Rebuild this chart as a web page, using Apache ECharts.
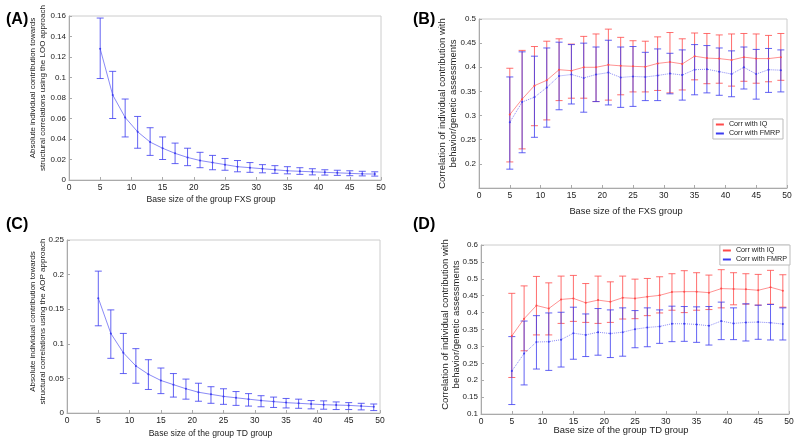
<!DOCTYPE html>
<html><head><meta charset="utf-8">
<script src="https://cdn.jsdelivr.net/npm/echarts@6/dist/echarts.min.js"></script>
<style>html,body{margin:0;padding:0;background:#fff}#c{width:800px;height:444px}</style>
</head><body><div id="c"></div>
<script>
const xs = [5,7,9,11,13,15,17,19,21,23,25,27,29,31,33,35,37,39,41,43,45,47,49];
const xTicks = [0,5,10,15,20,25,30,35,40,45,50];

// Panel A (FXS, LOO)
const aMean = [0.128,0.083,0.061,0.047,0.037,0.031,0.026,0.022,0.019,0.017,0.015,0.013,0.012,0.011,0.010,0.009,0.0085,0.008,0.0075,0.007,0.0065,0.006,0.0058];
const aHigh = [0.158,0.106,0.079,0.062,0.051,0.042,0.036,0.031,0.027,0.024,0.021,0.019,0.017,0.015,0.014,0.013,0.012,0.011,0.010,0.0095,0.009,0.0085,0.008];
const aLow  = [0.099,0.060,0.042,0.031,0.024,0.020,0.016,0.014,0.012,0.010,0.0095,0.008,0.0075,0.007,0.0065,0.006,0.0055,0.005,0.0048,0.0045,0.0042,0.004,0.0038];

// Panel B (FXS correlations)
const bIqMean = [0.302,0.334,0.362,0.373,0.395,0.393,0.400,0.400,0.405,0.403,0.402,0.401,0.408,0.411,0.407,0.423,0.419,0.418,0.415,0.421,0.418,0.418,0.421];
const bIqHigh = [0.398,0.435,0.443,0.454,0.459,0.448,0.464,0.469,0.479,0.462,0.455,0.454,0.463,0.472,0.459,0.471,0.470,0.467,0.469,0.470,0.469,0.466,0.470];
const bIqLow  = [0.204,0.231,0.279,0.291,0.331,0.336,0.336,0.329,0.332,0.343,0.349,0.349,0.352,0.347,0.353,0.374,0.366,0.367,0.361,0.371,0.367,0.370,0.373];
const bFmMean = [0.286,0.328,0.338,0.358,0.382,0.385,0.378,0.385,0.389,0.379,0.381,0.380,0.383,0.387,0.384,0.395,0.396,0.391,0.386,0.400,0.386,0.395,0.394];
const bFmHigh = [0.380,0.432,0.423,0.440,0.452,0.447,0.450,0.442,0.456,0.442,0.443,0.431,0.438,0.429,0.436,0.447,0.445,0.440,0.434,0.442,0.437,0.439,0.436];
const bFmLow  = [0.189,0.223,0.255,0.276,0.312,0.324,0.307,0.329,0.322,0.317,0.319,0.331,0.331,0.345,0.332,0.343,0.347,0.342,0.339,0.355,0.334,0.348,0.349];

// Panel C (TD, AOP)
const cMean = [0.166,0.115,0.087,0.068,0.056,0.047,0.041,0.035,0.030,0.027,0.024,0.022,0.020,0.018,0.0165,0.015,0.014,0.013,0.012,0.0115,0.011,0.010,0.009];
const cHigh = [0.205,0.149,0.115,0.093,0.077,0.065,0.057,0.049,0.043,0.038,0.035,0.031,0.028,0.025,0.023,0.021,0.020,0.018,0.0175,0.016,0.015,0.014,0.013];
const cLow  = [0.126,0.079,0.057,0.043,0.034,0.028,0.023,0.020,0.017,0.014,0.0125,0.011,0.010,0.009,0.008,0.0073,0.0068,0.006,0.0055,0.005,0.005,0.0045,0.0035];

// Panel D (TD correlations)
const dIqMean = [0.331,0.382,0.421,0.412,0.439,0.442,0.429,0.437,0.432,0.444,0.442,0.447,0.451,0.461,0.462,0.462,0.459,0.471,0.470,0.469,0.466,0.475,0.465];
const dIqHigh = [0.457,0.479,0.507,0.488,0.508,0.510,0.486,0.508,0.491,0.508,0.499,0.501,0.506,0.515,0.524,0.518,0.511,0.527,0.518,0.515,0.513,0.525,0.512];
const dIqLow  = [0.208,0.287,0.334,0.334,0.368,0.374,0.371,0.368,0.371,0.381,0.382,0.391,0.399,0.407,0.400,0.407,0.409,0.414,0.423,0.425,0.422,0.425,0.416];
const dFmMean = [0.227,0.279,0.313,0.314,0.320,0.339,0.334,0.342,0.338,0.342,0.351,0.356,0.359,0.367,0.367,0.365,0.361,0.375,0.368,0.371,0.372,0.370,0.366];
const dFmHigh = [0.329,0.375,0.391,0.399,0.401,0.416,0.396,0.412,0.408,0.414,0.406,0.414,0.408,0.419,0.418,0.417,0.418,0.431,0.414,0.426,0.422,0.424,0.414];
const dFmLow  = [0.128,0.186,0.233,0.229,0.239,0.262,0.270,0.274,0.267,0.271,0.296,0.299,0.309,0.314,0.315,0.312,0.304,0.320,0.320,0.316,0.321,0.319,0.319];

const RED = '#ff4a4a', BLUE = '#3c3cf0';
const FONT = 'Liberation Sans, Arial, sans-serif';

function pairs(m){ return xs.map((x,i)=>[x,m[i]]); }
function errData(lo,hi){ return xs.map((x,i)=>[x,lo[i],hi[i]]); }

function errSeries(idx, lo, hi, color, name){
  return {
    type:'custom', name:name, xAxisIndex:idx, yAxisIndex:idx, z:3,
    itemStyle:{color:color},
    data: errData(lo,hi), encode:{x:0,y:[1,2]},
    renderItem:function(params, api){
      const x = api.value(0);
      const p1 = api.coord([x, api.value(2)]);
      const p2 = api.coord([x, api.value(1)]);
      const w = 3.5;
      const st = {stroke:color, lineWidth:1, opacity:0.8};
      return {type:'group', children:[
        {type:'line', shape:{x1:p1[0],y1:p1[1],x2:p2[0],y2:p2[1]}, style:st},
        {type:'line', shape:{x1:p1[0]-w,y1:p1[1],x2:p1[0]+w,y2:p1[1]}, style:st},
        {type:'line', shape:{x1:p2[0]-w,y1:p2[1],x2:p2[0]+w,y2:p2[1]}, style:st}
      ]};
    }
  };
}
function lineSeries(idx, m, color, name, dotted){
  return {
    type:'line', name:name, xAxisIndex:idx, yAxisIndex:idx, z:4,
    data: pairs(m), symbol:'circle', symbolSize:2, showSymbol:true,
    itemStyle:{color:color}, lineStyle:{color:color, width:1, opacity:0.6, type: dotted?'dotted':'solid'},
    animation:false
  };
}

const grids = [
  {left:69, top:16, width:312, height:164},
  {left:479, top:19, width:308, height:169},
  {left:67, top:240, width:313, height:173},
  {left:481, top:245, width:308, height:169}
];
const xNames = ['Base size of the group FXS group','Base size of the FXS group','Base size of the group TD group','Base size of the group TD group'];
const xGaps = [15,19,16,12];
const xFont = [8.6,9.3,8.6,9.4];
const xShift = [28,14,26,28];
const yNames = [
  'Absolute individual contribution towards\nstructural correlations using the LOO approach',
  'Correlation of individual contribution with\nbehavior/genetic assessments',
  'Absolute individual contribution towards\nstructural correlations using the AOP approach',
  'Correlation of individual contribution with\nbehavior/genetic assessments'
];
const yRanges = [[0,0.16,0.02],[0.15,0.5,0.05],[0,0.25,0.05],[0.1,0.6,0.05]];
const yGaps = [21,20,19,19];
const yFont = [8,9.5,8,9.5];
const yLH = [10,11,10,11];
const yShift = [20,0,10,10];

const axisLabel = {fontSize:8, color:'#222', fontFamily:FONT, margin:3};
const xAxes = grids.map((g,i)=>({
  type:'value', gridIndex:i, min:0, max:50, interval:5,
  name:xNames[i], nameLocation:'middle', nameGap:xGaps[i], nameMoveOverlap:false,
  nameTextStyle:{fontSize:xFont[i], color:'#222', fontFamily:FONT, padding:[0,xShift[i],0,0]},
  axisLine:{show:true, lineStyle:{color:'#aaa'}},
  axisTick:{show:true, inside:true, length:3, lineStyle:{color:'#aaa'}},
  axisLabel:Object.assign({}, axisLabel, {fontSize:8.5}),
  splitLine:{show:false}
}));
const yAxes = grids.map((g,i)=>({
  type:'value', gridIndex:i, min:yRanges[i][0], max:yRanges[i][1], interval:yRanges[i][2],
  name:yNames[i], nameLocation:'middle', nameGap:yGaps[i], nameRotate:90, nameMoveOverlap:false,
  nameTextStyle:{fontSize:yFont[i], color:'#222', fontFamily:FONT, lineHeight:yLH[i], padding:[0,0,0,yShift[i]]},
  axisLine:{show:true, lineStyle:{color:'#aaa'}},
  axisTick:{show:true, inside:true, length:3, lineStyle:{color:'#aaa'}},
  axisLabel:Object.assign({}, axisLabel, {showMinLabel: i!==1}),
  splitLine:{show:false}
}));

const legendCommon = {
  orient:'vertical', itemWidth:8, itemHeight:2, itemGap:2, padding:[2,3,2,3],
  backgroundColor:'#fff', borderColor:'#bbb', borderWidth:1, borderRadius:0,
  textStyle:{fontSize:7.2, color:'#222', fontFamily:FONT},
  data:[{name:'Corr with IQ', icon:'rect', itemStyle:{color:RED}},{name:'Corr with FMRP', icon:'rect', itemStyle:{color:BLUE}}]
};

const option = {
  animation:false,
  grid: grids.map(g=>Object.assign({show:true, borderColor:'#ccc', borderWidth:1, backgroundColor:'#fff'}, g)),
  xAxis: xAxes, yAxis: yAxes,
  legend: [
    Object.assign({}, legendCommon, {right:17, top:119}),
    Object.assign({}, legendCommon, {right:10, top:245})
  ],
  graphic: [
    {type:'text', left:6, top:12, style:{text:'(A)', font:'bold 16px '+FONT, fill:'#000'}},
    {type:'text', left:413, top:12, style:{text:'(B)', font:'bold 16px '+FONT, fill:'#000'}},
    {type:'text', left:6, top:217, style:{text:'(C)', font:'bold 16px '+FONT, fill:'#000'}},
    {type:'text', left:413, top:217, style:{text:'(D)', font:'bold 16px '+FONT, fill:'#000'}}
  ],
  series: [
    errSeries(0, aLow, aHigh, BLUE, 'A err'),
    lineSeries(0, aMean, BLUE, 'A mean', false),
    errSeries(1, bIqLow, bIqHigh, RED, 'IQ err B'),
    lineSeries(1, bIqMean, RED, 'Corr with IQ', false),
    errSeries(1, bFmLow, bFmHigh, BLUE, 'FMRP err B'),
    lineSeries(1, bFmMean, BLUE, 'Corr with FMRP', true),
    errSeries(2, cLow, cHigh, BLUE, 'C err'),
    lineSeries(2, cMean, BLUE, 'C mean', false),
    errSeries(3, dIqLow, dIqHigh, RED, 'IQ err D'),
    lineSeries(3, dIqMean, RED, 'Corr with IQ', false),
    errSeries(3, dFmLow, dFmHigh, BLUE, 'FMRP err D'),
    lineSeries(3, dFmMean, BLUE, 'Corr with FMRP', true)
  ]
};
const chart = echarts.init(document.getElementById('c'), null, {renderer:'canvas'});
chart.setOption(option);
</script></body></html>
